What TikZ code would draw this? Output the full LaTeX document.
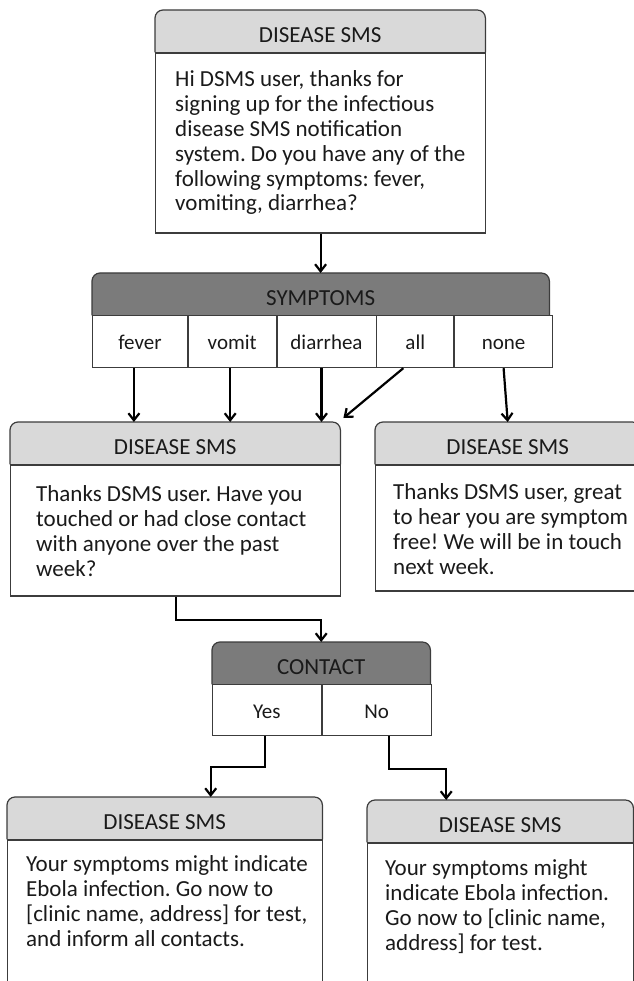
\documentclass[tikz,border=0pt]{standalone}
\usepackage{fontspec}
\setmainfont{Carlito}
\frenchspacing
\usetikzlibrary{arrows.meta,positioning,calc,backgrounds}
\definecolor{ink}{HTML}{1A1A1A}
\definecolor{edge}{HTML}{3C3C3C}
\definecolor{lightbar}{HTML}{D9D9D9}
\definecolor{darkbar}{HTML}{7B7B7B}
\begin{document}
\begin{tikzpicture}[x=1pt,y=-1pt,
    head/.style={inner sep=0pt,anchor=north west,minimum height=42pt,text=ink,
      font=\fontsize{23}{25}\selectfont,text height=22pt,text depth=0pt},
    bar/.style={draw=edge,line width=1.2pt,rounded corners=8pt},
    body/.style={draw=edge,line width=1.2pt,inner sep=0pt,anchor=north west},
    msg/.style={anchor=base west,align=left,inner sep=0pt,text=ink,
      font=\fontsize{23}{24.8}\selectfont},
    cell/.style={draw=edge,line width=0.8pt,inner sep=0pt,minimum height=52pt,text=ink,
      font=\fontsize{21}{24}\selectfont,text height=16pt,text depth=0pt},
    link/.style={-{Straight Barb[length=7pt,width=11pt]},line width=2.2pt,black}]
  \useasboundingbox (0,0) rectangle (633,981);

  % first message (text placed by its last baseline)
  \node[head,minimum width=330pt] (top-head) at (155,10) {DISEASE SMS};
  \node[body,minimum width=330pt,minimum height=180pt] (top-body) at (top-head.south west) {};
  \node[msg] (top-text) at (175,211) {Hi DSMS user, thanks for\\signing up for the infectious\\disease SMS notification\\system. Do you have any of the\\following symptoms: fever,\\vomiting, diarrhea?};

  % symptoms question
  \node[head,minimum width=457pt] (sym-head) at (92,273) {SYMPTOMS};
  \node[cell,anchor=north west,minimum width=95pt] (fever) at (sym-head.south west) {fever};
  \node[cell,right=0pt of fever,minimum width=88pt] (vomit) {vomit};
  \node[cell,right=0pt of vomit,minimum width=99pt] (diarrhea) {diarrhea};
  \node[cell,right=0pt of diarrhea,minimum width=77pt] (all) {all};
  \node[cell,right=0pt of all,minimum width=98pt] (none) {none};

  % contact message
  \node[head,minimum width=330pt] (ml-head) at (10,422) {DISEASE SMS};
  \node[body,minimum width=330pt,minimum height=131pt] (ml-body) at (ml-head.south west) {};
  \node[msg] (ml-text) at (36,576) {Thanks DSMS user. Have you\\touched or had close contact\\with anyone over the past\\week?};

  % symptom free message
  \node[head,minimum width=265pt] (mr-head) at (375,422) {DISEASE SMS};
  \node[body,minimum width=265pt,minimum height=126pt] (mr-body) at (mr-head.south west) {};
  \node[msg] (mr-text) at (393,574) {Thanks DSMS user, great\\to hear you are symptom\\free! We will be in touch\\next week.};

  % contact question
  \node[head,minimum width=218pt] (con-head) at (212,642) {CONTACT};
  \node[cell,anchor=north west,minimum width=109pt,minimum height=51pt] (yes) at (con-head.south west) {Yes};
  \node[cell,right=0pt of yes,minimum width=109pt,minimum height=51pt] (no) {No};

  % ebola messages
  \node[head,minimum width=315pt] (bl-head) at (7,797) {DISEASE SMS};
  \node[body,minimum width=315pt,minimum height=170pt] (bl-body) at (bl-head.south west) {};
  \node[msg] (bl-text) at (26,946) {Your symptoms might indicate\\Ebola infection. Go now to\\{[}clinic name, address] for test,\\and inform all contacts.};

  \node[head,minimum width=266pt] (br-head) at (367,800) {DISEASE SMS};
  \node[body,minimum width=266pt,minimum height=170pt] (br-body) at (br-head.south west) {};
  \node[msg] (br-text) at (385,950) {Your symptoms might\\indicate Ebola infection.\\Go now to [clinic name,\\address] for test.};

  \begin{scope}[on background layer]
    \foreach \h in {top-head,ml-head,mr-head,bl-head,br-head}
      \draw[bar,fill=lightbar] (\h.south west) |- (\h.north) -| (\h.south east);
    \foreach \h in {sym-head,con-head}
      \draw[bar,fill=darkbar] (\h.south west) |- (\h.north) -| (\h.south east);
  \end{scope}

  % arrows
  \draw[link] (top-body.south) -- (top-body.south |- sym-head.north);
  \foreach \c/\s in {fever/-6,vomit/-2,diarrhea/-5}
    \draw[link] ([xshift=\s pt]\c.south) -- ([xshift=\s pt]\c.south |- ml-head.north);
  \draw[link] ([xshift=-12pt]all.south) -- ($(ml-head.north east)+(3,-4)$);
  \draw[link] (none.south) -- (mr-head.north);
  \draw[link] (ml-body.south) -- ++(0,23) -| (con-head.north);
  \draw[link] ([xshift=-2pt]yes.south) -- ++(0,31) -| ([xshift=46pt]bl-head.north);
  \draw[link] ([xshift=12pt]no.south) -- ++(0,33) -| ([xshift=-54pt]br-head.north);
\end{tikzpicture}
\end{document}
